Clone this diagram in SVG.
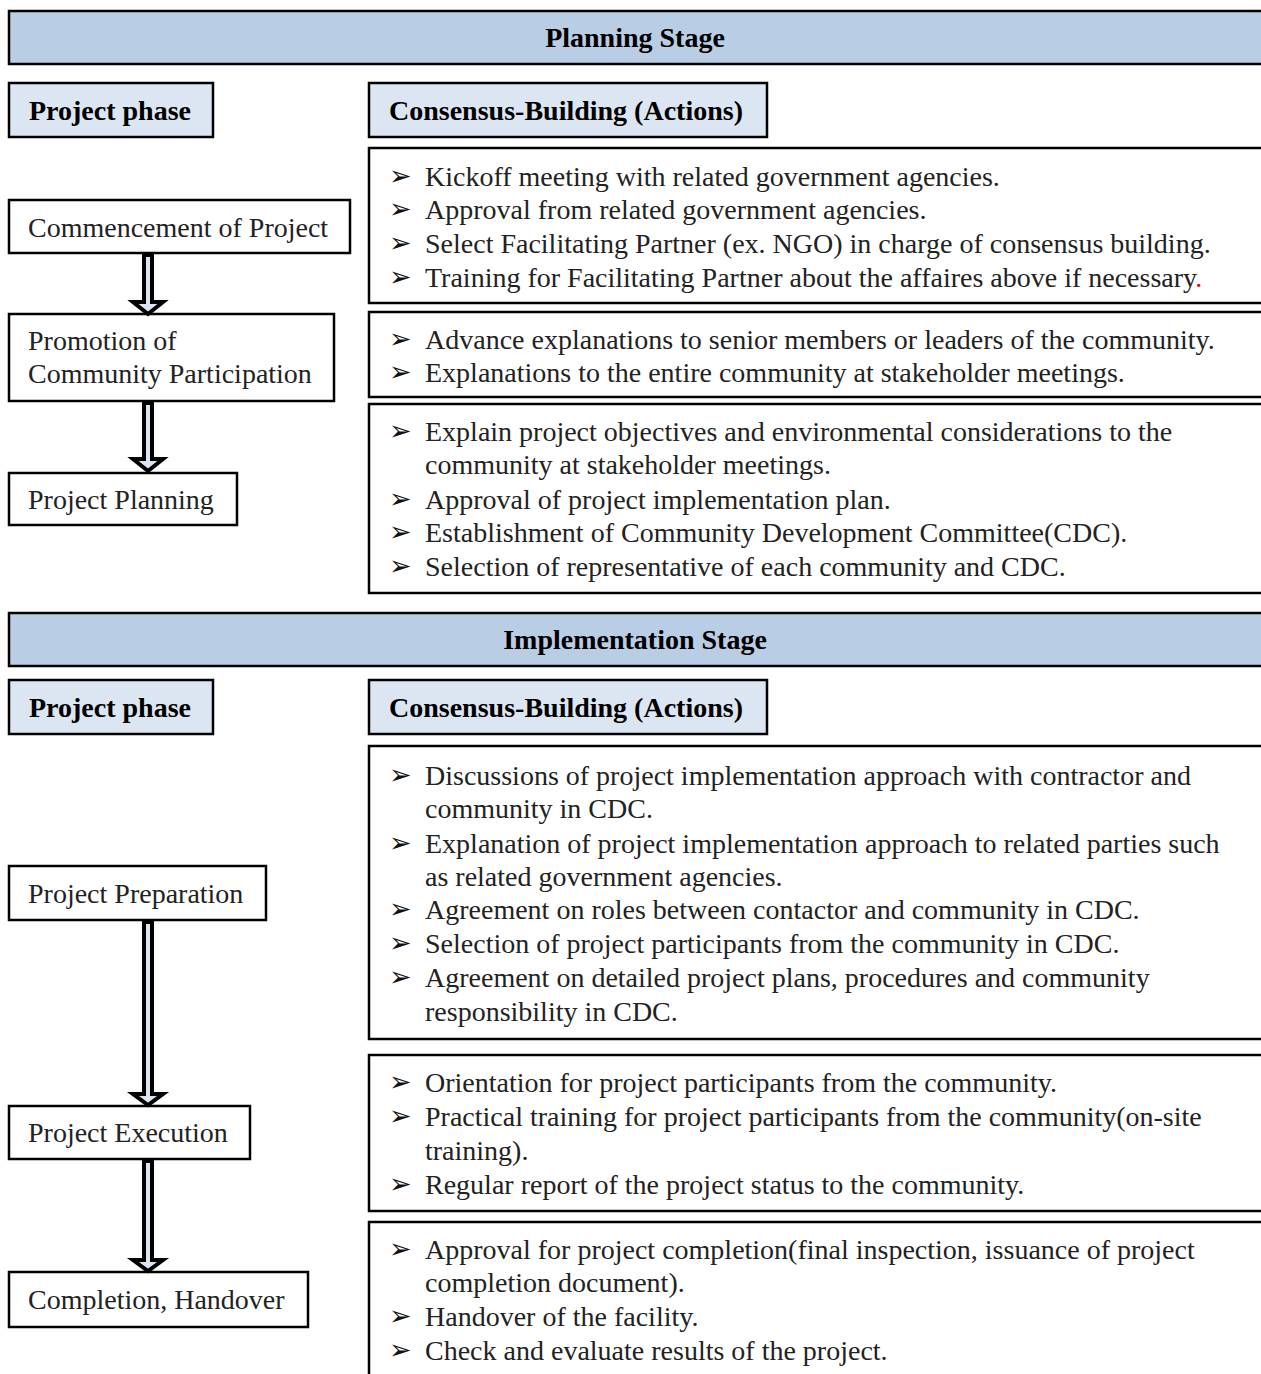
<svg xmlns="http://www.w3.org/2000/svg" width="1261" height="1374" viewBox="0 0 1261 1374">
<style>
.bar{fill:#b9cde5;stroke:#000;stroke-width:2.5}
.hdr{fill:#dce6f2;stroke:#000;stroke-width:2.5}
.box{fill:#fff;stroke:#000;stroke-width:2.5}
.t{font-family:"Liberation Serif","Times New Roman",serif;font-size:28px;fill:#222}
.b{font-family:"Liberation Serif","Times New Roman",serif;font-size:28px;font-weight:bold;fill:#000}
.bl{font-family:"DejaVu Sans",sans-serif;font-size:27px;fill:#111}
.arr{fill:#dce6f2;stroke:#000;stroke-width:4;stroke-linejoin:miter}
</style>
<rect width="1261" height="1374" fill="#fff"/>
<g id="planning-stage"><rect class="bar" x="9" y="11" width="1262" height="53"/><text class="b" x="635" y="47" text-anchor="middle">Planning Stage</text></g>
<g id="pp1"><rect class="hdr" x="9" y="83" width="204" height="54"/><text class="b" x="29" y="120">Project phase</text></g>
<g id="cb1"><rect class="hdr" x="369" y="83" width="398" height="54"/><text class="b" x="389" y="120">Consensus-Building (Actions)</text></g>
<g id="n-commence"><rect class="box" x="9" y="200" width="341" height="53"/><text class="t" x="28" y="237">Commencement of Project</text></g>
<g id="n-promotion"><rect class="box" x="9" y="314" width="325" height="87"/><text class="t" x="28" y="350">Promotion of</text><text class="t" x="28" y="383">Community Participation</text></g>
<g id="n-planning"><rect class="box" x="9" y="473" width="228" height="52"/><text class="t" x="28" y="509">Project Planning</text></g>
<g id="a1"><rect class="box" x="369" y="148" width="902" height="155"/>
<text class="bl" x="389" y="185">➢</text><text class="t" x="425" y="186">Kickoff meeting with related government agencies.</text>
<text class="bl" x="389" y="218">➢</text><text class="t" x="425" y="219">Approval from related government agencies.</text>
<text class="bl" x="389" y="252">➢</text><text class="t" x="425" y="253">Select Facilitating Partner (ex. NGO) in charge of consensus building.</text>
<text class="bl" x="389" y="286">➢</text><text class="t" x="425" y="287">Training for Facilitating Partner about the affaires above if necessary<tspan fill="#e00">.</tspan></text></g>
<g id="a2"><rect class="box" x="369" y="312" width="902" height="85"/>
<text class="bl" x="389" y="348">➢</text><text class="t" x="425" y="349">Advance explanations to senior members or leaders of the community.</text>
<text class="bl" x="389" y="381">➢</text><text class="t" x="425" y="382">Explanations to the entire community at stakeholder meetings.</text></g>
<g id="a3"><rect class="box" x="369" y="404" width="902" height="189"/>
<text class="bl" x="389" y="440">➢</text><text class="t" x="425" y="441">Explain project objectives and environmental considerations to the</text>
<text class="t" x="425" y="474">community at stakeholder meetings.</text>
<text class="bl" x="389" y="508">➢</text><text class="t" x="425" y="509">Approval of project implementation plan.</text>
<text class="bl" x="389" y="541">➢</text><text class="t" x="425" y="542">Establishment of Community Development Committee(CDC).</text>
<text class="bl" x="389" y="575">➢</text><text class="t" x="425" y="576">Selection of representative of each community and CDC.</text></g>
<g id="impl-stage"><rect class="bar" x="9" y="613" width="1262" height="53"/><text class="b" x="635" y="649" text-anchor="middle">Implementation Stage</text></g>
<g id="pp2"><rect class="hdr" x="9" y="680" width="204" height="54"/><text class="b" x="29" y="717">Project phase</text></g>
<g id="cb2"><rect class="hdr" x="369" y="680" width="398" height="54"/><text class="b" x="389" y="717">Consensus-Building (Actions)</text></g>
<g id="n-prep"><rect class="box" x="9" y="866" width="257" height="54"/><text class="t" x="28" y="903">Project Preparation</text></g>
<g id="n-exec"><rect class="box" x="9" y="1106" width="241" height="53"/><text class="t" x="28" y="1142">Project Execution</text></g>
<g id="n-complete"><rect class="box" x="9" y="1272" width="299" height="55"/><text class="t" x="28" y="1309">Completion, Handover</text></g>
<g id="a4"><rect class="box" x="369" y="746" width="902" height="293"/>
<text class="bl" x="389" y="784">➢</text><text class="t" x="425" y="785">Discussions of project implementation approach with contractor and</text>
<text class="t" x="425" y="818">community in CDC.</text>
<text class="bl" x="389" y="852">➢</text><text class="t" x="425" y="853">Explanation of project implementation approach to related parties such</text>
<text class="t" x="425" y="886">as related government agencies.</text>
<text class="bl" x="389" y="918">➢</text><text class="t" x="425" y="919">Agreement on roles between contactor and community in CDC.</text>
<text class="bl" x="389" y="952">➢</text><text class="t" x="425" y="953">Selection of project participants from the community in CDC.</text>
<text class="bl" x="389" y="986">➢</text><text class="t" x="425" y="987">Agreement on detailed project plans, procedures and community</text>
<text class="t" x="425" y="1021">responsibility in CDC.</text></g>
<g id="a5"><rect class="box" x="369" y="1055" width="902" height="156"/>
<text class="bl" x="389" y="1091">➢</text><text class="t" x="425" y="1092">Orientation for project participants from the community.</text>
<text class="bl" x="389" y="1125">➢</text><text class="t" x="425" y="1126">Practical training for project participants from the community(on-site</text>
<text class="t" x="425" y="1160">training).</text>
<text class="bl" x="389" y="1193">➢</text><text class="t" x="425" y="1194">Regular report of the project status to the community.</text></g>
<g id="a6"><rect class="box" x="369" y="1222" width="902" height="170"/>
<text class="bl" x="389" y="1258">➢</text><text class="t" x="425" y="1259">Approval for project completion(final inspection, issuance of project</text>
<text class="t" x="425" y="1292">completion document).</text>
<text class="bl" x="389" y="1325">➢</text><text class="t" x="425" y="1326">Handover of the facility.</text>
<text class="bl" x="389" y="1359">➢</text><text class="t" x="425" y="1360">Check and evaluate results of the project.</text></g>
<g id="connectors">
<polygon class="arr" points="144,255 152,255 152,302 163,302 148,314 133,302 144,302"/>
<polygon class="arr" points="144,403 152,403 152,459 163,459 148,471 133,459 144,459"/>
<polygon class="arr" points="144,922 152,922 152,1094 163,1094 148,1105 133,1094 144,1094"/>
<polygon class="arr" points="144,1161 152,1161 152,1260 163,1260 148,1271 133,1260 144,1260"/>
</g>
</svg>
